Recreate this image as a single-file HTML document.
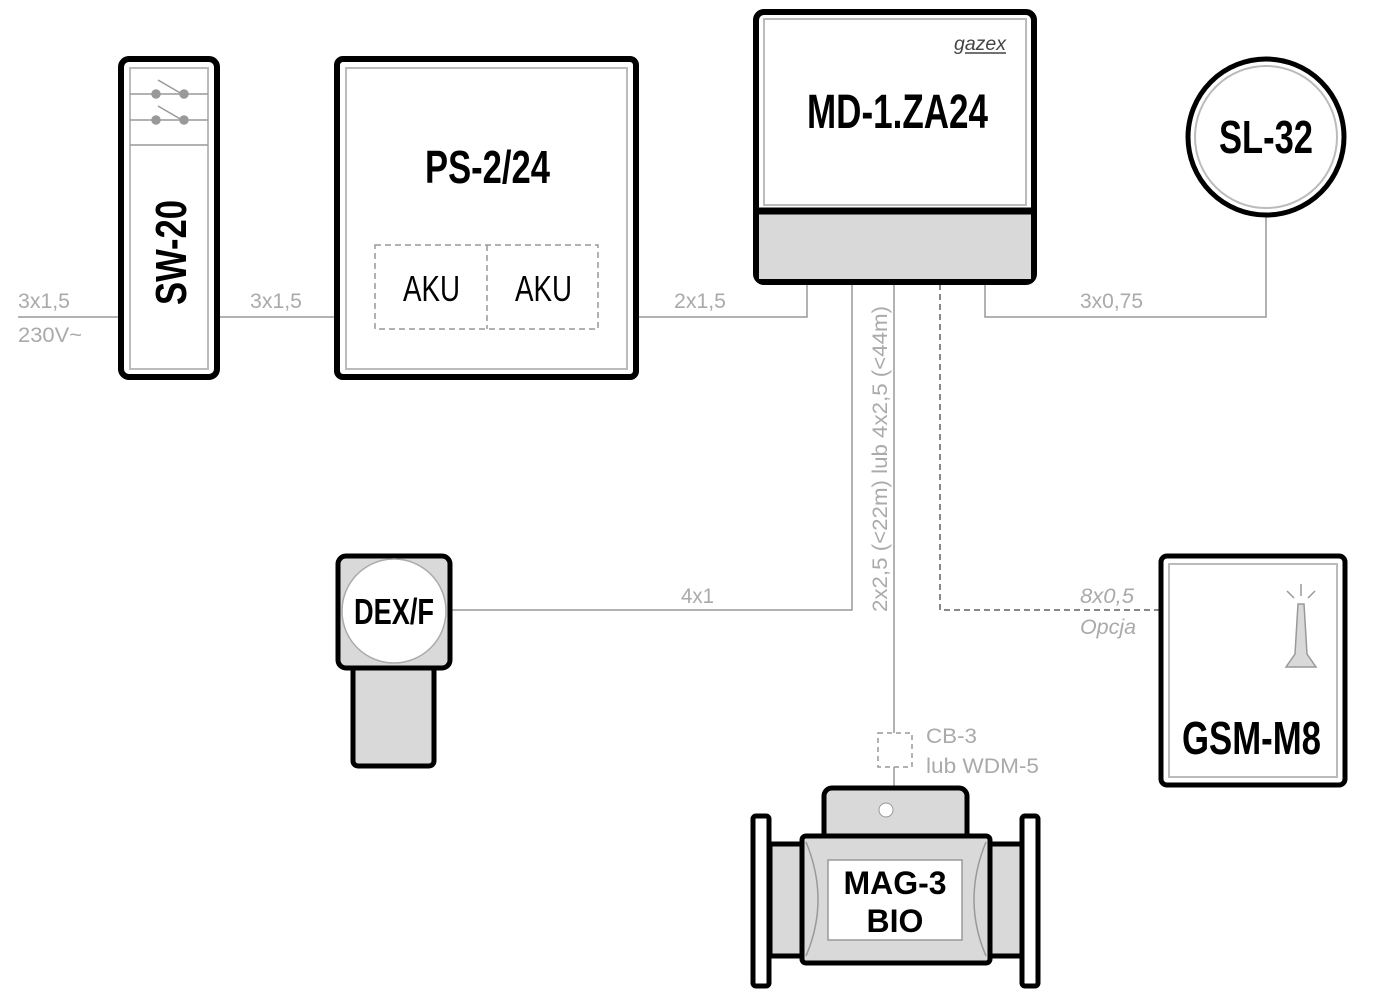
<!DOCTYPE html>
<html><head><meta charset="utf-8"><style>body{margin:0;background:#fff}svg{display:block}</style></head><body>
<svg width="1375" height="1000" viewBox="0 0 1375 1000" xmlns="http://www.w3.org/2000/svg" font-family="Liberation Sans Narrow, Liberation Sans, sans-serif">
<g stroke="#999" stroke-width="1.5" fill="none">
<line x1="18" y1="317" x2="120" y2="317"/>
<line x1="218" y1="317" x2="336" y2="317"/>
<polyline points="637,317 807,317 807,284"/>
<polyline points="852,284 852,610 452,610"/>
<polyline points="894,284 894,733"/>
<line x1="894" y1="767" x2="894" y2="787"/>
<polyline points="985,284 985,317 1266,317 1266,215"/>
<polyline points="940,284 940,610 1160,610" stroke-dasharray="6,4" stroke="#888" stroke-width="2"/>
<rect x="878" y="733" width="34" height="34" stroke-dasharray="5,4"/>
</g>
<g fill="#aaa" font-size="21">
<text x="18" y="308" textLength="52" lengthAdjust="spacingAndGlyphs">3x1,5</text>
<text x="18" y="342" textLength="64" lengthAdjust="spacingAndGlyphs">230V~</text>
<text x="250" y="308" textLength="52" lengthAdjust="spacingAndGlyphs">3x1,5</text>
<text x="674" y="308" textLength="52" lengthAdjust="spacingAndGlyphs">2x1,5</text>
<text x="1080" y="308" textLength="63" lengthAdjust="spacingAndGlyphs">3x0,75</text>
<text x="681" y="603" textLength="33" lengthAdjust="spacingAndGlyphs">4x1</text>
<text x="1080" y="603" font-style="italic" textLength="54" lengthAdjust="spacingAndGlyphs">8x0,5</text>
<text x="1080" y="634" font-style="italic" textLength="56" lengthAdjust="spacingAndGlyphs">Opcja</text>
<text x="926" y="743" textLength="51" lengthAdjust="spacingAndGlyphs">CB-3</text>
<text x="926" y="773" textLength="113" lengthAdjust="spacingAndGlyphs">lub WDM-5</text>
<text transform="translate(887,612) rotate(-90)" textLength="306" lengthAdjust="spacingAndGlyphs">2x2,5 (&lt;22m) lub 4x2,5 (&lt;44m)</text>
</g>
<!-- SW-20 -->
<rect x="121" y="59" width="96" height="318" rx="8" fill="#fff" stroke="#000" stroke-width="6"/>
<rect x="130" y="68" width="78" height="301" fill="none" stroke="#bbb" stroke-width="2"/>
<g stroke="#999" stroke-width="1.5" fill="#999">
<line x1="130" y1="145" x2="208" y2="145"/>
<line x1="130" y1="94" x2="208" y2="94"/><line x1="130" y1="120" x2="208" y2="120"/>
<line x1="158" y1="80" x2="182" y2="94"/><line x1="158" y1="106" x2="182" y2="120"/>
<circle cx="156" cy="94" r="4"/><circle cx="184" cy="94" r="4"/>
<circle cx="156" cy="120" r="4"/><circle cx="184" cy="120" r="4"/>
</g>
<text transform="translate(186,305) rotate(-90)" font-size="44" font-weight="bold" textLength="105" lengthAdjust="spacingAndGlyphs">SW-20</text>
<!-- PS -->
<rect x="337" y="59" width="299" height="318" rx="6" fill="#fff" stroke="#000" stroke-width="6"/>
<rect x="346" y="68" width="281" height="301" fill="none" stroke="#bbb" stroke-width="2"/>
<text x="425" y="183" font-size="46" font-weight="bold" textLength="125" lengthAdjust="spacingAndGlyphs">PS-2/24</text>
<g stroke="#999" stroke-width="1.5" fill="none" stroke-dasharray="6,4">
<rect x="375" y="245" width="223" height="84"/><line x1="487" y1="245" x2="487" y2="329"/>
</g>
<text x="403" y="301" font-size="36" textLength="57" lengthAdjust="spacingAndGlyphs">AKU</text>
<text x="515" y="301" font-size="36" textLength="57" lengthAdjust="spacingAndGlyphs">AKU</text>
<!-- MD -->
<rect x="756" y="12" width="278" height="270" rx="8" fill="#fff" stroke="#000" stroke-width="6"/>
<rect x="759" y="212" width="272" height="67" fill="#d9d9d9"/>
<line x1="756" y1="211" x2="1034" y2="211" stroke="#000" stroke-width="7"/>
<rect x="764" y="19" width="262" height="186" fill="none" stroke="#bbb" stroke-width="2"/>
<text x="954" y="50" font-size="19" font-style="italic" fill="#444" textLength="52" lengthAdjust="spacingAndGlyphs">gazex</text>
<line x1="965" y1="53" x2="1006" y2="53" stroke="#444" stroke-width="1.5"/>
<text x="807" y="128" font-size="48" font-weight="bold" textLength="181" lengthAdjust="spacingAndGlyphs">MD-1.ZA24</text>
<!-- SL-32 -->
<circle cx="1266" cy="137" r="78" fill="#fff" stroke="#000" stroke-width="5"/>
<circle cx="1266" cy="137" r="71" fill="none" stroke="#bbb" stroke-width="2"/>
<text x="1219" y="153" font-size="46" font-weight="bold" textLength="94" lengthAdjust="spacingAndGlyphs">SL-32</text>
<!-- DEX/F -->
<rect x="353" y="666" width="81" height="100" rx="5" fill="#d9d9d9" stroke="#000" stroke-width="5"/>
<rect x="338" y="556" width="112" height="112" rx="8" fill="#d9d9d9" stroke="#000" stroke-width="5"/>
<circle cx="394" cy="611" r="52" fill="#fff" stroke="#aaa" stroke-width="1.5"/>
<text x="354" y="624" font-size="36" font-weight="bold" textLength="80" lengthAdjust="spacingAndGlyphs">DEX/F</text>
<!-- GSM -->
<rect x="1161" y="556" width="184" height="229" rx="6" fill="#fff" stroke="#000" stroke-width="5"/>
<rect x="1169" y="564" width="168" height="213" fill="none" stroke="#bbb" stroke-width="2"/>
<g stroke="#999" stroke-width="1.5"><line x1="1301" y1="584" x2="1301" y2="596"/><line x1="1287" y1="591" x2="1294" y2="598"/><line x1="1315" y1="591" x2="1308" y2="598"/></g>
<polygon points="1298,604 1304,604 1307,654 1316,667 1286,667 1295,654" fill="#d9d9d9" stroke="#999" stroke-width="1.5"/>
<text x="1182" y="754" font-size="46" font-weight="bold" textLength="139" lengthAdjust="spacingAndGlyphs">GSM-M8</text>
<!-- MAG-3 -->
<rect x="824" y="788" width="143" height="58" rx="8" fill="#d9d9d9" stroke="#000" stroke-width="5"/>
<circle cx="886" cy="810" r="7" fill="#fff" stroke="#999"/>
<rect x="770" y="844" width="252" height="112" fill="#d9d9d9" stroke="#000" stroke-width="5"/>
<rect x="802" y="836" width="188" height="127" rx="4" fill="#d9d9d9" stroke="#000" stroke-width="5"/>
<path d="M806,842 Q830,900 806,956 M986,842 Q962,900 986,956" fill="none" stroke="#999" stroke-width="1.5"/>
<rect x="753" y="816" width="16" height="170" rx="3" fill="#fff" stroke="#000" stroke-width="5"/>
<rect x="1022" y="816" width="16" height="170" rx="3" fill="#fff" stroke="#000" stroke-width="5"/>
<rect x="828" y="860" width="134" height="80" fill="#fff" stroke="#999" stroke-width="1.5"/>
<text x="895" y="894" font-size="32" font-weight="bold" text-anchor="middle" font-family="Liberation Sans, sans-serif">MAG-3</text>
<text x="895" y="932" font-size="32" font-weight="bold" text-anchor="middle" font-family="Liberation Sans, sans-serif">BIO</text>
</svg>
</body></html>
